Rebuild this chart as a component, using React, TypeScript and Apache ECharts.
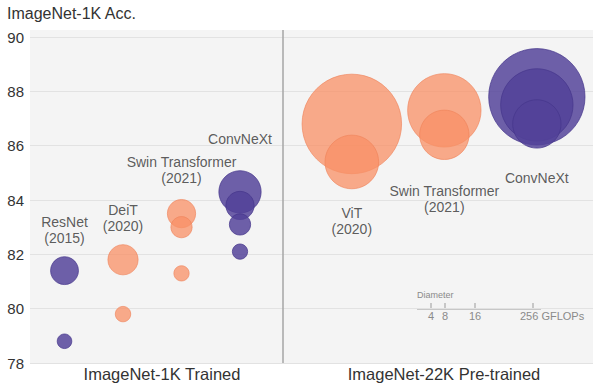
import React, { useEffect, useRef } from "react";
import * as echarts from "echarts";

// ---- data ----
const groups1K = ["ResNet\n(2015)", "DeiT\n(2020)", "Swin Transformer\n(2021)", "ConvNeXt"];
const groups22K = ["ViT\n(2020)", "Swin Transformer\n(2021)", "ConvNeXt"];
const labelAcc1K = [82.9, 83.32, 85.1, 86.26];
const labelAcc22K = [83.23, 84.02, 84.81];

const resnetAcc = [81.4, 78.8];
const resnetGflops = [15.0, 4.1];
const deitAcc = [81.8, 79.8];
const deitGflops = [17.6, 4.6];
const swin1kAcc = [83.5, 83.0, 81.3];
const swin1kGflops = [15.4, 8.7, 4.5];
const convnext1kAcc = [84.3, 83.8, 83.1, 82.1];
const convnext1kGflops = [34.4, 15.4, 8.7, 4.5];

const vitAcc = [86.8, 85.4];
const vitGflops = [191.1, 55.5];
const swin22kAcc = [87.3, 86.4];
const swin22kGflops = [103.9, 47.0];
const convnext22kAcc = [87.8, 87.5, 86.8];
const convnext22kGflops = [179.0, 101.0, 45.1];

const yTicks = [78, 80, 82, 84, 86, 88, 90];
const legendTicks = ["4", "8", "16", "256 GFLOPs"];

const FONT = "'Liberation Sans', Arial, Helvetica, sans-serif";
const PURPLE = "rgba(82,65,153,0.84)";
const PURPLE_B = "rgba(70,54,140,0.9)";
const ORANGE = "rgba(249,144,102,0.76)";
const ORANGE_B = "rgba(240,130,90,0.8)";
const K = 7.2;

function family(name: string, idx: number, acc: number[], gf: number[], axis: number, purple: boolean) {
  return {
    type: "scatter",
    name,
    xAxisIndex: axis,
    yAxisIndex: axis,
    data: acc.map((a, i) => [idx, a, gf[i]]),
    symbolSize: (v: number[]) => K * Math.sqrt(v[2]),
    itemStyle: {
      color: purple ? PURPLE : ORANGE,
      borderColor: purple ? PURPLE_B : ORANGE_B,
      borderWidth: 0.8,
      opacity: 1,
    },
    silent: true,
    z: 3,
  };
}

function labels(names: string[], acc: number[], axis: number) {
  return {
    type: "scatter",
    xAxisIndex: axis,
    yAxisIndex: axis,
    symbolSize: 1,
    itemStyle: { color: "transparent" },
    silent: true,
    data: names.map((n, i) => ({ name: n, value: [i + 1, acc[i]] })),
    label: {
      show: true,
      position: "inside",
      formatter: (p: any) => p.name,
      color: "#333",
      fontSize: 14,
      lineHeight: 16,
      fontFamily: FONT,
      align: "center",
      verticalAlign: "middle",
    },
    z: 5,
  };
}

export default function App() {
  const ref = useRef<HTMLDivElement>(null);
  useEffect(() => {
    if (!ref.current) return;
    const chart = echarts.init(ref.current, undefined, { renderer: "svg" });
    const yAxisBase = {
      type: "value",
      min: yTicks[0],
      max: yTicks[yTicks.length - 1],
      interval: 2,
      axisLine: { show: false },
      axisTick: { show: false },
      splitLine: { lineStyle: { color: "#e2e2e2", width: 1 } },
    };
    const tickX = [431, 445, 475, 533];
    chart.setOption({
      animation: false,
      grid: [
        { left: 30, width: 253, top: 37, bottom: 23 },
        { left: 283, width: 310, top: 37, bottom: 23 },
      ],
      xAxis: [
        { type: "value", gridIndex: 0, min: 0.41, max: 4.735, show: false },
        { type: "value", gridIndex: 1, min: 0.256, max: 3.607, show: false },
      ],
      yAxis: [
        {
          ...yAxisBase,
          gridIndex: 0,
          axisLabel: { color: "#333", fontSize: 15, fontFamily: FONT, margin: 6 },
        },
        { ...yAxisBase, gridIndex: 1, axisLabel: { show: false } },
      ],
      graphic: [
        {
          type: "rect",
          z: -100,
          shape: { x: 30, y: 30, width: 563, height: 333 },
          style: { fill: "#f4f4f4" },
          silent: true,
        },
        {
          type: "line",
          z: 1,
          shape: { x1: 283, y1: 30, x2: 283, y2: 363 },
          style: { stroke: "#a6a6a6", lineWidth: 1.5 },
          silent: true,
        },
        {
          type: "text",
          x: 7,
          y: 13,
          style: {
            text: "ImageNet-1K Acc.",
            fill: "#333",
            fontSize: 16,
            fontFamily: FONT,
            textAlign: "left",
            textVerticalAlign: "middle",
          },
        },
        {
          type: "text",
          x: 162,
          y: 374,
          style: {
            text: "ImageNet-1K Trained",
            fill: "#333",
            fontSize: 16.5,
            fontFamily: FONT,
            textAlign: "center",
            textVerticalAlign: "middle",
          },
        },
        {
          type: "text",
          x: 444,
          y: 374,
          style: {
            text: "ImageNet-22K Pre-trained",
            fill: "#333",
            fontSize: 16.5,
            fontFamily: FONT,
            textAlign: "center",
            textVerticalAlign: "middle",
          },
        },
        {
          type: "text",
          x: 417,
          y: 295,
          style: {
            text: "Diameter",
            fill: "#8a8a8a",
            fontSize: 9,
            fontFamily: FONT,
            textAlign: "left",
            textVerticalAlign: "middle",
          },
        },
        {
          type: "line",
          shape: { x1: 417, y1: 309, x2: 541, y2: 309 },
          style: { stroke: "#9a9a9a", lineWidth: 1 },
        },
        ...tickX.map((x) => ({
          type: "line",
          shape: { x1: x, y1: 303, x2: x, y2: 309 },
          style: { stroke: "#9a9a9a", lineWidth: 1 },
        })),
        ...legendTicks.map((t, i) => ({
          type: "text",
          x: i === 3 ? tickX[i] - 13 : tickX[i],
          y: 316,
          style: {
            text: t,
            fill: "#8a8a8a",
            fontSize: 11,
            fontFamily: FONT,
            textAlign: i === 3 ? "left" : "center",
            textVerticalAlign: "middle",
          },
        })),
      ],
      series: [
        family("ResNet", 1, resnetAcc, resnetGflops, 0, true),
        family("DeiT", 2, deitAcc, deitGflops, 0, false),
        family("Swin 1K", 3, swin1kAcc, swin1kGflops, 0, false),
        family("ConvNeXt 1K", 4, convnext1kAcc, convnext1kGflops, 0, true),
        family("ViT", 1, vitAcc, vitGflops, 1, false),
        family("Swin 22K", 2, swin22kAcc, swin22kGflops, 1, false),
        family("ConvNeXt 22K", 3, convnext22kAcc, convnext22kGflops, 1, true),
        labels(groups1K, labelAcc1K, 0),
        labels(groups22K, labelAcc22K, 1),
      ],
    });
    return () => chart.dispose();
  }, []);
  return (
    <div
      ref={ref}
      style={{ position: "fixed", left: 0, top: 0, width: 600, height: 386, background: "#fff" }}
    />
  );
}
